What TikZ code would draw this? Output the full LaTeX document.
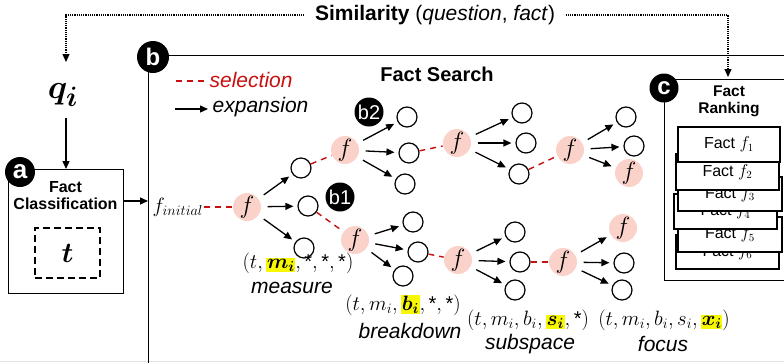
\documentclass[tikz,border=0pt]{standalone}
\usepackage{fontspec}
\setmainfont{Liberation Sans}
\usepackage{bm}
\usepackage{graphicx}
\usetikzlibrary{arrows.meta}
\definecolor{pinkf}{RGB}{250,210,202}
\definecolor{selred}{RGB}{200,16,16}
\definecolor{hl}{RGB}{248,248,0}
\newcommand{\hlm}[1]{{\setlength{\fboxsep}{0.6pt}\colorbox{hl}{$#1$}}}
\newcommand{\fs}[1]{\fontsize{#1}{#1}\selectfont}
\begin{document}
\begin{tikzpicture}[x=1pt,y=-1pt,line width=1.3pt,
  fnode/.style={circle,fill=pinkf,minimum size=28pt,inner sep=0pt,font=\fs{24.88}},
  cnode/.style={circle,draw,minimum size=20pt,inner sep=0pt,line width=1.2pt},
  badge/.style={circle,fill=black,text=white,inner sep=0pt},
  exparrow/.style={-{Triangle[length=8pt,width=7pt]},shorten <=6pt,shorten >=4pt},
  selline/.style={selred,dash pattern=on 6pt off 5pt,line width=1.4pt},
  dotline/.style={line width=1.1pt,dash pattern=on 1.1pt off 1.1pt,-{Triangle[length=8pt,width=7pt]}},
  factbox/.style={draw,fill=white,minimum width=102pt,minimum height=35pt,inner sep=0pt,line width=1.2pt,font=\fs{16}},
  tuple/.style={font=\fs{20},inner sep=0pt},
  opname/.style={font=\itshape\fs{21},inner sep=0pt}
]
\useasboundingbox (0,0) rectangle (784,362);
\clip (0,0) rectangle (784,362);
\draw[gray!22,line width=1pt] (0,361) -- (784,361);

% box b (search)
\node[draw,anchor=north west,minimum width=700pt,minimum height=400pt,inner sep=0pt] (bbox) at (148,55) {};
% box c (ranking)
\node[draw,fill=white,anchor=north west,minimum width=200pt,minimum height=201pt,inner sep=0pt] (cbox) at (664,79) {};
% box a (classification)
\node[draw,fill=white,anchor=north west,minimum width=115pt,minimum height=124pt,inner sep=0pt] (abox) at (8,169) {};
\node[font=\bfseries\fs{16},align=center,inner sep=0pt] (atitle) at (65.5,195.5) {Fact\\[1pt]Classification};
\node[draw,dash pattern=on 7pt off 4pt,minimum width=65pt,minimum height=50pt,inner sep=0pt,font=\fs{24.88}] (tbox) at (67.5,253) {\scalebox{1.15}{$\bm{t}$}};

% badges
\node[badge,minimum size=30pt,font=\bfseries\fs{26}] (ba) at (20,172) {a};
\node[badge,minimum size=32pt,font=\bfseries\fs{24}] (bb) at (153,57) {b};
\node[badge,minimum size=29pt,font=\bfseries\fs{24}] (bc) at (664,88) {c};
\node[badge,minimum size=29pt,font=\fs{20}] (bb1) at (340,197) {b1};
\node[badge,minimum size=29pt,font=\fs{20}] (bb2) at (369,112) {b2};

% question and similarity
\node[font=\fs{24.88},inner sep=0pt] (q) at (63,95) {\scalebox{1.35}{$\bm{q_i}$}};
\node[font=\fs{21},inner sep=0pt] (sim) at (435,15) {\textbf{Similarity} (\textit{question}, \textit{fact\/})};
\coordinate (qtop) at (66,62);
\coordinate (ctop) at (728,77);
\draw[dotline] ([xshift=-10pt]sim.west) -| (qtop);
\draw[dotline] ([xshift=10pt]sim.east) -| (ctop);
\draw[-{Triangle[length=8pt,width=7pt]}] (66,118) -- (abox.north -| 66,0);
\draw[-{Triangle[length=8pt,width=7pt]}] (abox.east |- 0,201) -- (bbox.west |- 0,201);

% legend and title
\coordinate (lselstart) at (176,81);
\coordinate (lexpstart) at (175,109);
\node[anchor=west,font=\itshape\fs{21},text=selred,inner sep=0pt] (lsel) at (209,80) {selection};
\node[anchor=west,font=\itshape\fs{21},inner sep=0pt] (lexp) at (212,107) {expansion};
\draw[selline] (lselstart) -- ([xshift=-2pt]lsel.west |- lselstart);
\draw[-{Triangle[length=8pt,width=7pt]}] (lexpstart) -- ([xshift=-4pt]lexp.west |- lexpstart);
\node[font=\bfseries\fs{20},inner sep=0pt] (title) at (437,74) {Fact Search};

% ranking
\node[font=\bfseries\fs{15.5},align=center,inner sep=0pt] (ctitle) at (729,101.5) {Fact\\[1pt]Ranking};
\node[factbox,minimum width=103pt,minimum height=34pt] (r6) at (727.5,252) {Fact $f_6$};
\node[factbox,minimum width=104pt] (r5) at (730,234.5) {Fact $f_5$};
\node[factbox,minimum width=103pt] (r4) at (725.5,211.5) {Fact $f_4$};
\node[factbox,minimum width=104pt,minimum height=34pt] (r3) at (730,194) {Fact $f_3$};
\node[factbox,minimum width=103pt,minimum height=36pt] (r2) at (727.5,172) {Fact $f_2$};
\node[factbox] (r1) at (729,144.5) {Fact $f_1$};

% search tree
\node[font=\fs{22},anchor=west,inner sep=0pt] (finit) at (152,207) {$f_{initial}$};
\node[fnode] (f1) at (247,207) {$f$};
\node[cnode] (n11) at (301,168) {};
\node[cnode] (n12) at (308,206) {};
\node[cnode] (n13) at (304,248) {};
\node[fnode] (f2) at (345,150) {$f$};
\node[cnode] (n21) at (407,117) {};
\node[cnode] (n22) at (409,153) {};
\node[cnode] (n23) at (405,184) {};
\node[fnode] (f5) at (457,143) {$f$};
\node[cnode] (n51) at (522,113) {};
\node[cnode] (n52) at (526,143) {};
\node[cnode] (n53) at (519,174) {};
\node[fnode] (f6) at (570,150) {$f$};
\node[cnode] (n61) at (626,117) {};
\node[cnode] (n62) at (634,146) {};
\node[fnode] (n63) at (629,173) {$f$};
\node[fnode] (f3) at (355,240) {$f$};
\node[cnode] (n31) at (413,222) {};
\node[cnode] (n32) at (418,252) {};
\node[cnode] (n33) at (403,276) {};
\node[fnode] (f4) at (458,260) {$f$};
\node[cnode] (n41) at (515,232) {};
\node[cnode] (n42) at (520,262) {};
\node[cnode] (n43) at (515,290) {};
\node[fnode] (f7) at (563,262) {$f$};
\node[fnode] (n71) at (623,228) {$f$};
\node[cnode] (n72) at (624,263) {};
\node[cnode] (n73) at (622,290) {};

\foreach \p/\a/\b/\c in {f1/n11/n12/n13, f2/n21/n22/n23, f5/n51/n52/n53, f6/n61/n62/n63,
                          f3/n31/n32/n33, f4/n41/n42/n43, f7/n71/n72/n73}{
  \draw[exparrow] (\p) -- (\a);
  \draw[exparrow] (\p) -- (\b);
  \draw[exparrow] (\p) -- (\c);
}
\foreach \s/\t in {finit/f1, n11/f2, n12/f3, n22/f5, n53/f6, n32/f4, n42/f7}{
  \draw[selline] (\s) -- (\t);
}

% labels
\node[tuple] (t1) at (298,263) {$(t,\hlm{\bm{m_i}},\textrm{*},\textrm{*},\textrm{*})$};
\node[opname] (o1) at (292,288) {measure};
\node[tuple] (t2) at (403,305) {$(t,m_i,\hlm{\bm{b_i}},\textrm{*},\textrm{*})$};
\node[opname] (o2) at (410,331) {breakdown};
\node[tuple] (t3) at (528,320) {$(t,m_i,b_i,\hlm{\bm{s_i}},\textrm{*})$};
\node[opname] (o3) at (530,344) {subspace};
\node[tuple] (t4) at (664,320) {$(t,m_i,b_i,s_i,\hlm{\bm{x_i}})$};
\node[opname] (o4) at (663,344) {focus};
\end{tikzpicture}
\end{document}
